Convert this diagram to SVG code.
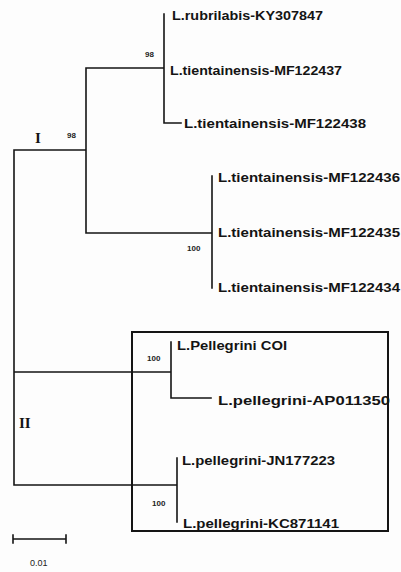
<svg xmlns="http://www.w3.org/2000/svg" width="401" height="572" viewBox="0 0 401 572">
<style>
.br{stroke:#151515;stroke-width:1.6;fill:none;stroke-linecap:square}
.lab{font-family:"Liberation Sans",Arial,sans-serif;font-size:13px;font-weight:bold;fill:#141414}
.bs{font-family:"Liberation Sans",Arial,sans-serif;font-size:8px;font-weight:bold;fill:#222}
.cl{font-family:"Liberation Serif","Times New Roman",serif;font-size:15px;font-weight:bold;fill:#141414}
</style>
<rect width="401" height="572" fill="#fdfdfd"/>
<g id="connectors">
<path class="br" d="M14 150V485M14 150H86M86 68V233M86 68H164M164 14V123M164 123H181M86 233H212M212 176V288M14 372H171M171 342V398M171 398H211M14 485H177M177 458V522"/>
</g>
<g id="box"><rect x="132" y="332" width="256" height="199" fill="none" stroke="#151515" stroke-width="2"/></g>
<g id="n-KY307847"><text class="lab" x="172" y="20" textLength="151" lengthAdjust="spacingAndGlyphs">L.rubrilabis-KY307847</text></g>
<g id="n-MF122437"><text class="lab" x="170" y="75" textLength="172" lengthAdjust="spacingAndGlyphs">L.tientainensis-MF122437</text></g>
<g id="n-MF122438"><text class="lab" x="184" y="128" textLength="182" lengthAdjust="spacingAndGlyphs">L.tientainensis-MF122438</text></g>
<g id="n-MF122436"><text class="lab" x="218" y="182" textLength="182" lengthAdjust="spacingAndGlyphs">L.tientainensis-MF122436</text></g>
<g id="n-MF122435"><text class="lab" x="218" y="237" textLength="182" lengthAdjust="spacingAndGlyphs">L.tientainensis-MF122435</text></g>
<g id="n-MF122434"><text class="lab" x="218" y="292" textLength="182" lengthAdjust="spacingAndGlyphs">L.tientainensis-MF122434</text></g>
<g id="n-COI"><text class="lab" x="177" y="350" textLength="110" lengthAdjust="spacingAndGlyphs">L.Pellegrini COI</text></g>
<g id="n-AP011350"><text class="lab" x="218" y="405" textLength="172" lengthAdjust="spacingAndGlyphs">L.pellegrini-AP011350</text></g>
<g id="n-JN177223"><text class="lab" x="182" y="465" textLength="153" lengthAdjust="spacingAndGlyphs">L.pellegrini-JN177223</text></g>
<g id="n-KC871141"><text class="lab" x="183" y="528" textLength="156" lengthAdjust="spacingAndGlyphs">L.pellegrini-KC871141</text></g>
<g id="bootstrap">
<text class="bs" x="145" y="57">98</text>
<text class="bs" x="67" y="138">98</text>
<text class="bs" x="187" y="251">100</text>
<text class="bs" x="147" y="361">100</text>
<text class="bs" x="152" y="506">100</text>
</g>
<g id="clade-I"><text class="cl" x="35" y="143">I</text></g>
<g id="clade-II"><text class="cl" x="19" y="428">II</text></g>
<g id="scale">
<path class="br" d="M13 539H66M13 535V543M66 535V543"/>
<text class="bs" x="30" y="566" style="font-weight:normal;font-size:9px">0.01</text>
</g>
</svg>
